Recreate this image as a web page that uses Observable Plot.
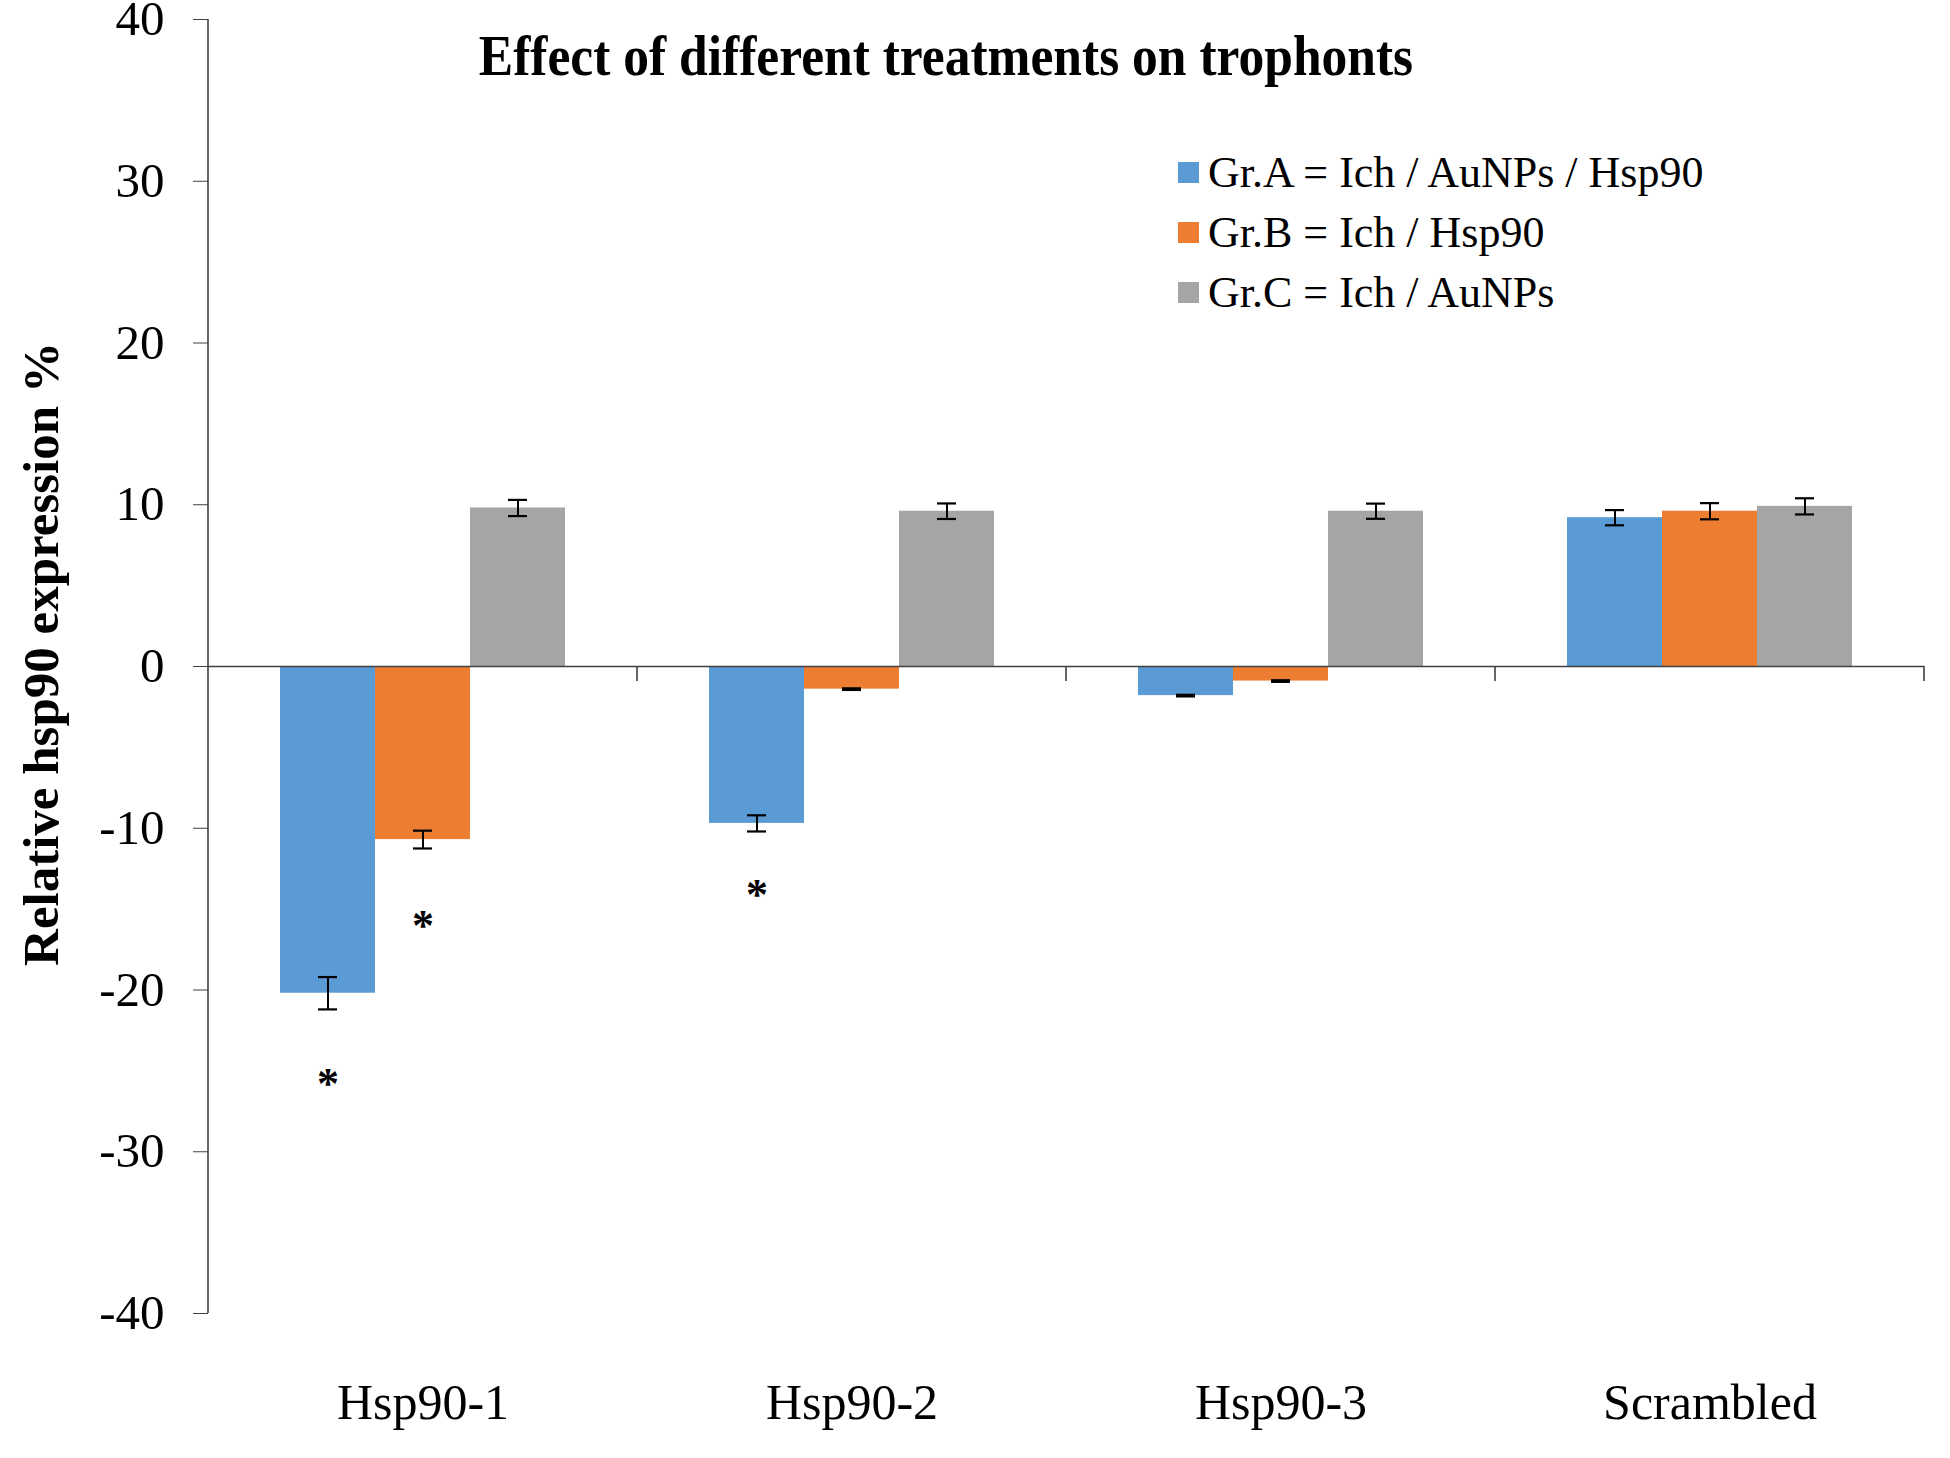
<!DOCTYPE html>
<html>
<head>
<meta charset="utf-8">
<script src="https://cdn.jsdelivr.net/npm/d3@7"></script>
<script src="https://cdn.jsdelivr.net/npm/@observablehq/plot@0.6"></script>
<style>
  html, body { margin: 0; padding: 0; background: #fff; overflow: hidden; }
  #wrap { position: relative; width: 1950px; height: 1458px; font-family: "Liberation Serif", "Times New Roman", serif; color: #000; }
  #wrap svg { position: absolute; left: 0; top: 0; }
  #title { position: absolute; left: 946px; top: 56px; transform: translate(-50%, -50%) scaleX(0.92); font-weight: bold; font-size: 56px; white-space: nowrap; }
  #ylabel { position: absolute; left: 41px; top: 654px; transform: translate(-50%, -50%) rotate(-90deg); font-weight: bold; font-size: 51px; white-space: nowrap; }
  #legend { position: absolute; left: 1178px; top: 142px; }
  .row { display: flex; align-items: center; height: 60px; font-size: 44px; white-space: nowrap; }
  .sw { width: 21px; height: 21px; margin-right: 9px; flex: none; }
</style>
</head>
<body>
<div id="wrap">
  <div id="title">Effect of different treatments on trophonts</div>
  <div id="ylabel">Relative hsp90 expression %</div>
  <div id="legend"></div>
</div>
<script>
// ---- data ----
const categories = ["Hsp90-1", "Hsp90-2", "Hsp90-3", "Scrambled"];
const groups = ["Gr.A = Ich / AuNPs / Hsp90", "Gr.B = Ich / Hsp90", "Gr.C = Ich / AuNPs"];
const colors = ["#5B9BD5", "#ED7D31", "#A5A5A5"];
const groupA = [-20.2, -9.7, -1.8, 9.2];
const groupB = [-10.7, -1.4, -0.9, 9.6];
const groupC = [9.8, 9.6, 9.6, 9.9];
const errA = [1.0, 0.5, 0.05, 0.47];
const errB = [0.55, 0.05, 0.05, 0.5];
const errC = [0.5, 0.48, 0.47, 0.5];
const starCats = ["Hsp90-1", "Hsp90-1", "Hsp90-2"];
const starGroups = [0, 1, 0];
const starY = [-25.4, -15.6, -13.7];
const yTicks = [-40, -30, -20, -10, 0, 10, 20, 30, 40];

// ---- tables ----
const seriesVals = [groupA, groupB, groupC];
const seriesErr = [errA, errB, errC];
const rows = [];
categories.forEach((c, i) => {
  groups.forEach((g, j) => {
    rows.push({cat: c, group: g, value: seriesVals[j][i], err: seriesErr[j][i]});
  });
});
const stars = starCats.map((c, i) => ({cat: c, group: groups[starGroups[i]], y: starY[i]}));

const axisColor = "#404040";

const plot = Plot.plot({
  width: 1950,
  height: 1458,
  marginLeft: 207,
  marginRight: 26,
  marginTop: 19,
  marginBottom: 145,
  style: {fontFamily: "'Liberation Serif', 'Times New Roman', serif", background: "transparent", color: "#000", overflow: "visible"},
  fx: {domain: categories, padding: 0},
  x: {domain: groups, paddingInner: 0, paddingOuter: 0.75, axis: null},
  y: {domain: [-40, 40]},
  color: {domain: groups, range: colors},
  marks: [
    Plot.barY(rows, {fx: "cat", x: "group", y: "value", fill: "group"}),
    Plot.ruleY([0], {stroke: axisColor, strokeWidth: 1.6}),
    Plot.ruleX(rows, {fx: "cat", x: "group", y1: d => d.value - d.err, y2: d => d.value + d.err, stroke: "#000", strokeWidth: 2}),
    Plot.tickY(rows, {fx: "cat", x: "group", y: d => d.value - d.err, stroke: "#000", strokeWidth: 2.2, insetLeft: 38, insetRight: 38}),
    Plot.tickY(rows, {fx: "cat", x: "group", y: d => d.value + d.err, stroke: "#000", strokeWidth: 2.2, insetLeft: 38, insetRight: 38}),
    Plot.text(stars, {fx: "cat", x: "group", y: "y", text: () => "*", fontSize: 44, fontWeight: "bold", fill: "#000", dy: 7}),
    Plot.axisY({ticks: yTicks, tickFormat: d => String(d), tickSize: 15, tickPadding: 29, fontSize: 49, stroke: axisColor, fill: "#000", label: null}),
    Plot.axisFx({anchor: "bottom", tickSize: 0, tickPadding: 70, fontSize: 50, fill: "#000", label: null})
  ]
});

document.getElementById("wrap").prepend(plot);

// axis line and category boundary ticks drawn from the library's scales
const fxS = plot.scale("fx");
const yS = plot.scale("y");
const svg = d3.select(plot.tagName.toLowerCase() === "svg" ? plot : plot.querySelector("svg"));
const g = svg.append("g").attr("stroke", axisColor).attr("stroke-width", 1.6);
const left = fxS.apply(categories[0]);
g.append("line").attr("x1", left).attr("x2", left).attr("y1", yS.apply(40)).attr("y2", yS.apply(-40));
categories.forEach(c => {
  const xr = fxS.apply(c) + fxS.bandwidth;
  g.append("line").attr("x1", xr).attr("x2", xr).attr("y1", yS.apply(0)).attr("y2", yS.apply(0) + 15);
});

// legend
const legend = document.getElementById("legend");
groups.forEach((gname, i) => {
  const r = document.createElement("div");
  r.className = "row";
  const s = document.createElement("span");
  s.className = "sw";
  s.style.background = colors[i];
  const t = document.createElement("span");
  t.textContent = gname;
  r.appendChild(s); r.appendChild(t);
  legend.appendChild(r);
});
</script>
</body>
</html>
